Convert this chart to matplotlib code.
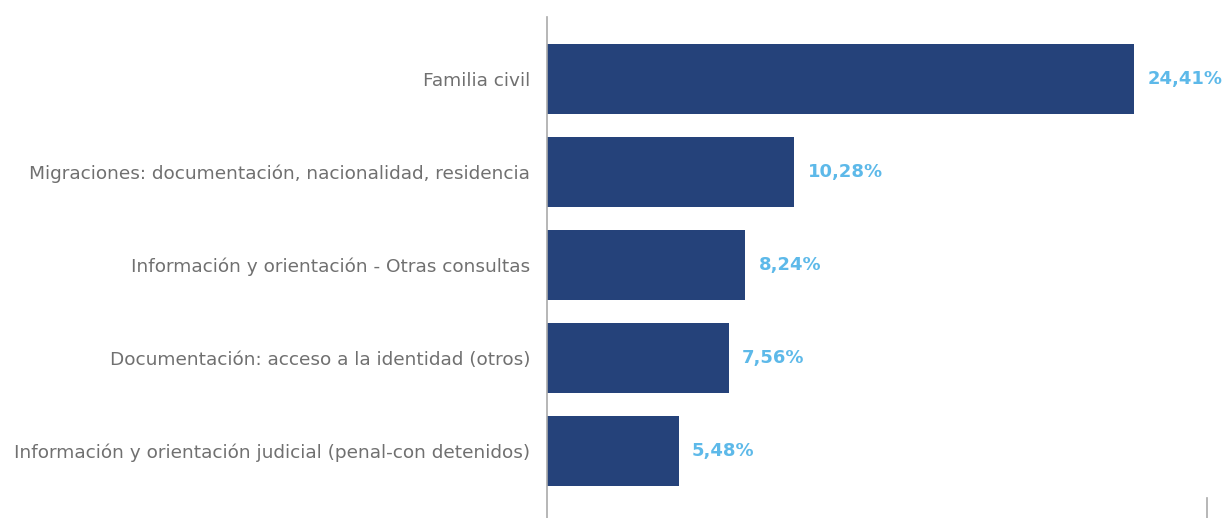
import matplotlib
matplotlib.use("Agg")
import matplotlib.pyplot as plt
from matplotlib.lines import Line2D

categories = [
    "Familia civil",
    "Migraciones: documentación, nacionalidad, residencia",
    "Información y orientación - Otras consultas",
    "Documentación: acceso a la identidad (otros)",
    "Información y orientación judicial (penal-con detenidos)",
]
values = [24.41, 10.28, 8.24, 7.56, 5.48]
value_labels = ["24,41%", "10,28%", "8,24%", "7,56%", "5,48%"]

plt.rcParams['font.family'] = ['DejaVu Sans']

W, H = 1224, 518
fig = plt.figure(figsize=(W / 100, H / 100), dpi=100)
left = 547 / W
ax = fig.add_axes([left, 0, 1 - left, (H - 17) / H])

pos = list(range(len(categories)))
ax.barh(pos, values, height=0.75, color="#25427A")
ax.set_ylim(4.72, -0.67)
ax.set_xlim(0, (W - 547) / 24.05)

for p, v, t in zip(pos, values, value_labels):
    ax.text(v + 0.55, p, t, va="center", ha="left", fontsize=13,
            fontweight="bold", color="#5DB9E9")

ax.set_yticks(pos)
ax.set_yticklabels(categories, fontsize=13.3, color="#707070")
ax.tick_params(axis="y", length=0, pad=12.2)
ax.set_xticks([])
for s in ["top", "right", "bottom"]:
    ax.spines[s].set_visible(False)
ax.spines["left"].set_color("#AAAAAA")
ax.spines["left"].set_linewidth(1.2)

fig.add_artist(Line2D([1206.5 / W, 1206.5 / W], [0, 20 / H], transform=fig.transFigure,
                      color="#AAAAAA", linewidth=1.2))

fig.savefig("out.png", dpi=100)
